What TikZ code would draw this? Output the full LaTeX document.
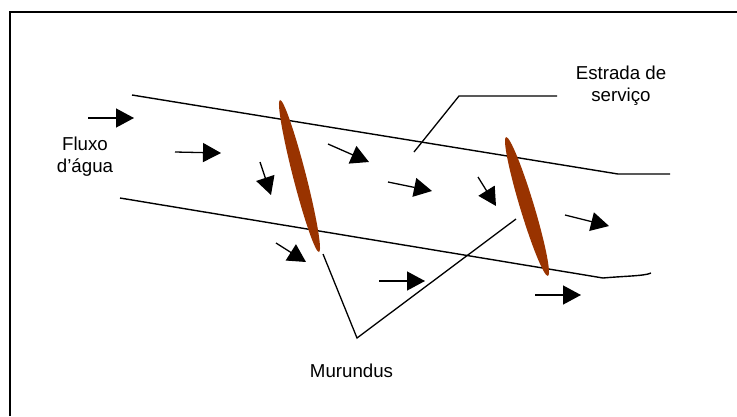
\documentclass[tikz,border=0pt]{standalone}
\usepackage{fontspec}
\setmainfont{Liberation Sans}
\usetikzlibrary{arrows.meta,shapes.geometric}
\definecolor{murundu}{RGB}{153,51,0}
\tikzset{
  road/.style={line width=1.4pt},
  leader/.style={line width=1.3pt},
  flow/.style={line width=1.3pt,-{Triangle[length=18pt,width=19pt]}},
  mound/.style={ellipse,fill=murundu,draw=none,inner sep=0pt},
  lbl/.style={font=\fontsize{18.7}{22}\selectfont,align=center,inner sep=0pt}
}
\begin{document}
\begin{tikzpicture}[x=1pt,y=-1pt]
\useasboundingbox (0,0) rectangle (737,416);
% frame
\coordinate (fl) at (10,416);
\coordinate (ftl) at (10,12);
\coordinate (fr) at (737,12);
\draw[line width=2pt] (fl) -- (ftl) -- (fr);
% road edges
\coordinate (t1) at (132,95);
\coordinate (t2) at (618,174);
\coordinate (t3) at (670,174);
\draw[road] (t1) -- (t2) -- (t3);
\coordinate (b1) at (120,198);
\coordinate (b2) at (603,278);
\coordinate (b3) at (651,273);
\draw[road] (b1) -- (b2) .. controls (625,276) and (645,276) .. (b3);
% mounds
\node[mound,minimum width=157pt,minimum height=13pt,rotate=-75.6] (m1) at (299.5,176) {};
\node[mound,minimum width=145pt,minimum height=14pt,rotate=-73.2] (m2) at (527,206.5) {};
% flow arrows
\coordinate (a1s) at (88,118);  \coordinate (a1e) at (134,118);
\coordinate (a2s) at (175,152); \coordinate (a2e) at (221,153);
\coordinate (a3s) at (260,162); \coordinate (a3e) at (271,195);
\coordinate (a4s) at (276,243); \coordinate (a4e) at (306,262);
\coordinate (a5s) at (328,144); \coordinate (a5e) at (369,162);
\coordinate (a6s) at (388,182); \coordinate (a6e) at (432,191);
\coordinate (a7s) at (478,177); \coordinate (a7e) at (496,206);
\coordinate (a8s) at (565,215); \coordinate (a8e) at (609,226);
\coordinate (a9s) at (379,281); \coordinate (a9e) at (425,281);
\coordinate (a10s) at (535,295); \coordinate (a10e) at (581,295);
\foreach \i in {1,...,10} \draw[flow] (a\i s) -- (a\i e);
% labels
\node[lbl] (fluxo) at (85,157) {Fluxo\\d’água};
\node[lbl] (estrada) at (621,86) {Estrada de\\serviço};
\node[lbl] (murundus) at (351.5,371) {Murundus};
% leaders
\coordinate (e1) at (414,152);
\coordinate (e2) at (459,96);
\coordinate (e3) at (557,96);
\draw[leader] (e1) -- (e2) -- (e3);
\coordinate (u1) at (323,254);
\coordinate (u2) at (357,338);
\coordinate (u3) at (516,219);
\draw[leader] (u1) -- (u2) -- (u3);
\end{tikzpicture}
\end{document}
